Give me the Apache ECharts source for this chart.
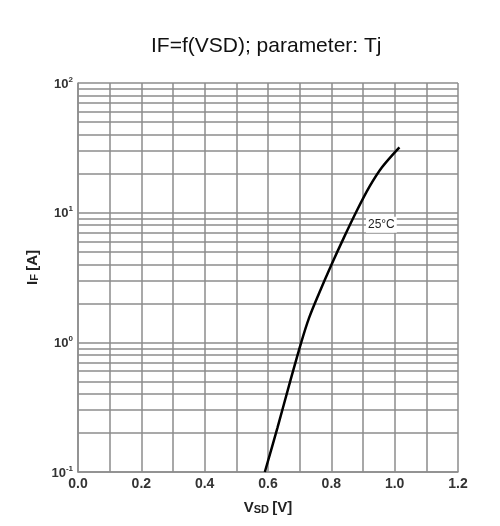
<!DOCTYPE html>
<html>
<head>
<meta charset="utf-8">
<script src="https://cdn.jsdelivr.net/npm/echarts@6/dist/echarts.min.js"></script>
<style>
  html, body { margin: 0; padding: 0; background: #fff; }
  #chart { width: 500px; height: 526px; }
</style>
</head>
<body>
<div id="chart"></div>
<script>
// VSD [V] vs IF [A] at Tj = 25°C
const vsd = [0.59, 0.63, 0.67, 0.705, 0.73, 0.76, 0.80, 0.84, 0.88, 0.92, 0.96, 1.015];
const iF  = [0.1, 0.22, 0.50, 1.0, 1.55, 2.35, 3.95, 6.45, 10.3, 15.8, 22.4, 31.9];

// minor grid lines of the log axis
const minorY = [0.2, 0.3, 0.4, 0.5, 0.6, 0.7, 0.8, 0.9,
                2, 3, 4, 5, 6, 7, 8, 9,
                20, 30, 40, 50, 60, 70, 80, 90];

const gridColor = '#8c8c8c';
const labelColor = '#333';
const font = 'Liberation Sans, Arial, sans-serif';

let EChart = echarts.init(document.getElementById('chart'));
let option = {
  backgroundColor: '#fff',
  animation: false,
  title: {
    text: 'IF=f(VSD); parameter: Tj',
    left: 146,
    top: 31,
    textStyle: {
      fontFamily: font,
      fontSize: 21,
      fontWeight: 'normal',
      color: '#111'
    }
  },
  grid: { left: 78, top: 83, width: 380, height: 389 },
  xAxis: {
    type: 'value',
    min: 0,
    max: 1.2,
    interval: 0.2,
    name: '{v|V}{s|SD} {v|[V]}',
    nameLocation: 'middle',
    nameGap: 25,
    nameTextStyle: {
      rich: {
        v: { fontSize: 15, fontWeight: 'bold', color: '#222', fontFamily: font, verticalAlign: 'bottom', lineHeight: 18 },
        s: { fontSize: 11, fontWeight: 'bold', color: '#222', fontFamily: font, verticalAlign: 'bottom', lineHeight: 16 }
      }
    },
    axisLine: { show: true, lineStyle: { color: gridColor, width: 1.5 } },
    axisTick: { show: false },
    axisLabel: {
      margin: 5,
      color: labelColor,
      fontSize: 14,
      fontWeight: 'bold',
      fontFamily: font,
      formatter: v => v.toFixed(1)
    },
    splitLine: { show: true, lineStyle: { color: gridColor, width: 1.5 } },
    minorTick: { show: false, splitNumber: 2 },
    minorSplitLine: { show: true, lineStyle: { color: gridColor, width: 1.5 } }
  },
  yAxis: {
    type: 'log',
    logBase: 10,
    min: 0.1,
    max: 100,
    name: '{b|I}{s|F} {b|[A]}',
    nameLocation: 'middle',
    nameRotate: 90,
    nameGap: 32,
    nameTextStyle: {
      padding: [0, 0, 0, 20],
      rich: {
        b: { fontSize: 15, fontWeight: 'bold', color: '#222', fontFamily: font, verticalAlign: 'bottom', lineHeight: 18 },
        s: { fontSize: 11, fontWeight: 'bold', color: '#222', fontFamily: font, verticalAlign: 'bottom', lineHeight: 16 }
      }
    },
    axisLine: { show: true, lineStyle: { color: gridColor, width: 1.5 } },
    axisTick: { show: false },
    axisLabel: {
      margin: 5,
      formatter: v => '{b|10}{s|' + Math.round(Math.log10(v)) + '}',
      rich: {
        b: { fontSize: 13, fontWeight: 'bold', color: labelColor, fontFamily: font, verticalAlign: 'bottom', lineHeight: 15 },
        s: { fontSize: 8, fontWeight: 'bold', color: labelColor, fontFamily: font, verticalAlign: 'top', lineHeight: 15 }
      }
    },
    splitLine: { show: true, lineStyle: { color: gridColor, width: 1.5 } }
  },
  series: [
    {
      // minor horizontal grid lines
      type: 'line',
      data: [],
      z: 1,
      silent: true,
      markLine: {
        silent: true,
        symbol: ['none', 'none'],
        label: { show: false },
        lineStyle: { color: gridColor, width: 1.5, type: 'solid' },
        emphasis: { disabled: true },
        data: minorY.map(v => ({ yAxis: v }))
      }
    },
    {
      name: '25°C',
      type: 'line',
      z: 5,
      data: vsd.map((x, i) => [x, iF[i]]),
      showSymbol: false,
      smooth: 0.3,
      lineStyle: { color: '#000', width: 2.5 },
      markPoint: {
        symbol: 'rect',
        symbolSize: 0,
        silent: true,
        label: {
          show: true,
          position: 'inside',
          formatter: '25°C',
          backgroundColor: '#fff',
          padding: [2, 2],
          color: '#222',
          fontSize: 12,
          fontFamily: font
        },
        data: [{ coord: [0.958, 8.07] }]
      }
    }
  ]
};
EChart.setOption(option);
</script>
</body>
</html>
